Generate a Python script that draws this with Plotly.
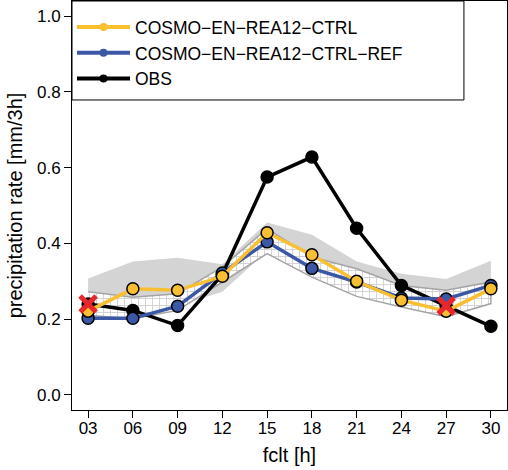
import plotly.graph_objects as go

hours = [3, 6, 9, 12, 15, 18, 21, 24, 27, 30]
hour_labels = ["03", "06", "09", "12", "15", "18", "21", "24", "27", "30"]

obs = [0.240, 0.223, 0.183, 0.318, 0.575, 0.628, 0.440, 0.289, 0.235, 0.181]
ctrl = [0.221, 0.280, 0.276, 0.313, 0.428, 0.370, 0.300, 0.250, 0.221, 0.280]
ctrl_ref = [0.202, 0.202, 0.234, 0.322, 0.404, 0.334, 0.298, 0.256, 0.253, 0.289]

# spread of CTRL (solid grey) and CTRL-REF (hatched)
ctrl_hi = [0.307, 0.352, 0.362, 0.345, 0.455, 0.423, 0.352, 0.320, 0.306, 0.354]
ctrl_lo = [0.225, 0.215, 0.235, 0.272, 0.380, 0.320, 0.270, 0.235, 0.215, 0.250]
ref_hi = [0.272, 0.258, 0.267, 0.338, 0.439, 0.364, 0.333, 0.289, 0.276, 0.298]
ref_lo = [0.210, 0.201, 0.223, 0.298, 0.373, 0.311, 0.260, 0.232, 0.206, 0.241]

# flagged observations
flag_hours = [3, 27]
flag_vals = [0.240, 0.235]

YELLOW = "#F8C030"
BLUE = "#3B58A6"
FONT = "Liberation Sans"

fig = go.Figure()

fig.add_trace(go.Scatter(x=hours + hours[::-1], y=ctrl_hi + ctrl_lo[::-1],
                         fill="toself", fillcolor="#D4D4D4", mode="none",
                         showlegend=False, hoverinfo="skip"))
fig.add_trace(go.Scatter(x=hours + hours[::-1], y=ref_hi + ref_lo[::-1],
                         fill="toself", fillcolor="white", mode="lines",
                         line=dict(color="#A4A4A4", width=1.5),
                         fillpattern=dict(shape="+", size=7, solidity=0.25,
                                          fgcolor="#A4A4A4", bgcolor="white"),
                         showlegend=False, hoverinfo="skip"))

series = [("OBS", obs, "black"), ("COSMO−EN−REA12−CTRL−REF", ctrl_ref, BLUE),
          ("COSMO−EN−REA12−CTRL", ctrl, YELLOW)]
for name, vals, col in series:
    fig.add_trace(go.Scatter(x=hours, y=vals, mode="lines+markers", name=name,
                             line=dict(color=col, width=3.5),
                             marker=dict(color=col, size=12, line=dict(color="black", width=1.5)),
                             showlegend=False))

fig.add_trace(go.Scatter(x=flag_hours, y=flag_vals, mode="markers",
                         marker=dict(symbol="x-thin", size=16, line=dict(color="#E8262B", width=5)),
                         showlegend=False))

# legend entries
for name, vals, col in series[::-1]:
    fig.add_trace(go.Scatter(x=[None], y=[None], mode="lines+markers", name=name,
                             line=dict(color=col, width=4), marker=dict(color=col, size=8),
                             legendgroup=name))

fig.add_shape(type="rect", xref="paper", yref="paper", x0=0, x1=0.901, y0=0.758, y1=1,
              line=dict(color="black", width=1), fillcolor="white", layer="above")

fig.update_layout(
    width=508, height=470,
    margin=dict(l=72, r=1, t=1, b=60),
    plot_bgcolor="white", paper_bgcolor="white",
    font=dict(family=FONT, size=17, color="black"),
    legend=dict(x=0, y=0.98, xanchor="left", yanchor="top", bgcolor="rgba(0,0,0,0)",
                borderwidth=0, tracegroupgap=0, itemwidth=53, font=dict(size=17.5)),
    xaxis=dict(range=[1.92, 31.08], tickvals=hours, ticktext=hour_labels,
               showgrid=False, zeroline=False, showline=True, mirror=True,
               linecolor="black", linewidth=1, ticks="outside", ticklen=7,
               tickcolor="black", ticklabelstandoff=-4,
               title=dict(text="fclt [h]", standoff=10)),
    yaxis=dict(range=[-0.04, 1.04], tickvals=[0, 0.2, 0.4, 0.6, 0.8, 1.0], tickformat=".1f",
               showgrid=False, zeroline=False, showline=True, mirror=True,
               linecolor="black", linewidth=1, ticks="outside", ticklen=7,
               tickcolor="black", title=dict(text="precipitation rate [mm/3h]", standoff=8)),
)

fig.write_html("out.html", config={"displayModeBar": False},
               post_script="document.body.style.margin='0';")
